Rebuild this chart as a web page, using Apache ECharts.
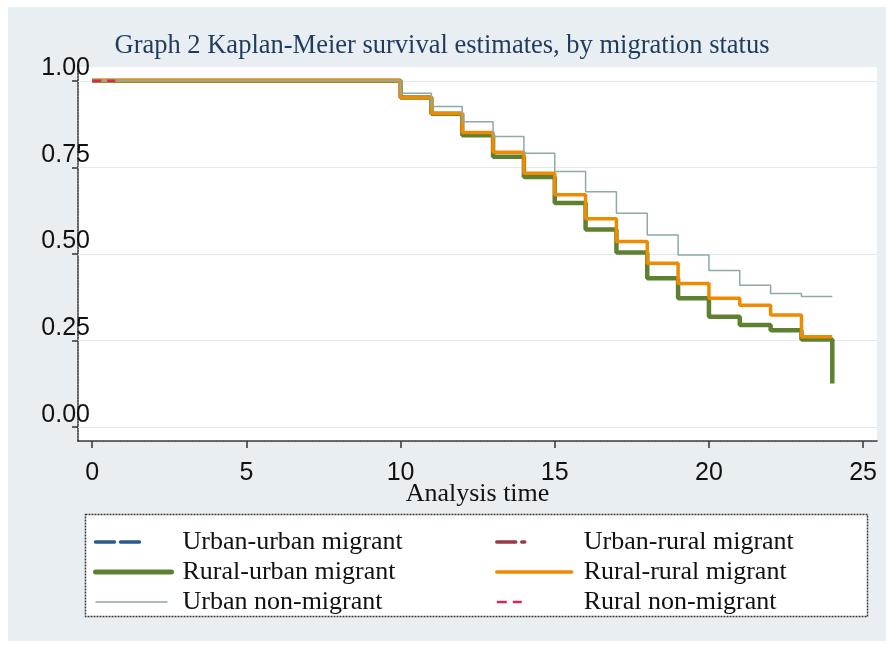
<!DOCTYPE html>
<html>
<head>
<meta charset="utf-8">
<script src="https://cdn.jsdelivr.net/npm/echarts@6/dist/echarts.min.js"></script>
<style>html,body{margin:0;padding:0;background:#fff}#c{width:886px;height:653px}</style>
</head>
<body>
<div id="c"></div>
<script>
// ---- data ----
const times = [0, 10, 11, 12, 13, 14, 15, 16, 17, 18, 19, 20, 21, 22, 23, 24];
const ruralUrban = [1, 0.952, 0.905, 0.843, 0.781, 0.722, 0.647, 0.571, 0.504, 0.430, 0.372, 0.319, 0.295, 0.280, 0.253, 0.126];
const ruralRural = [1, 0.952, 0.906, 0.851, 0.794, 0.733, 0.671, 0.602, 0.536, 0.473, 0.415, 0.372, 0.352, 0.324, 0.261, 0.261];
const urbanNon = [1, 0.964, 0.926, 0.882, 0.839, 0.791, 0.738, 0.680, 0.618, 0.555, 0.497, 0.452, 0.410, 0.386, 0.377, 0.377];
const shortTimes = [0, 0.75];
const urbanUrban = [1, 1];
const urbanRural = [1, 1];
const ruralNon = [1, 1];
const xTicks = [0, 5, 10, 15, 20, 25];
const yTicks = [0, 0.25, 0.5, 0.75, 1];
const names = ['Urban-urban migrant', 'Urban-rural migrant', 'Rural-urban migrant', 'Rural-rural migrant', 'Urban non-migrant', 'Rural non-migrant'];

const pairs = (t, v) => t.map((x, i) => [x, v[i]]);
const SERIF = '"Liberation Serif", "Times New Roman", serif';
const SANS = '"Liberation Sans", Arial, sans-serif';

const C = {
  navy: '#2b5b8c', maroon: '#9a3a44', green: '#5d8131', orange: '#f08a00', gray: '#8fa8a8', red: '#d8285a'
};

const chart = echarts.init(document.getElementById('c'), null, {renderer: 'canvas'});

const legendText = {fontFamily: SERIF, fontSize: 26, color: '#111', lineHeight: 30, padding: [0, 0, 0, 2]};
const noSym = {opacity: 0, color: 'transparent', borderWidth: 0};

chart.setOption({
  backgroundColor: '#fff',
  animation: false,
  graphic: [
    {type: 'rect', shape: {x: 8, y: 7, width: 878, height: 634}, style: {fill: '#e8eef1'}, z: -10, silent: true},
    {type: 'rect', shape: {x: 85.5, y: 514.5, width: 782, height: 102}, style: {fill: '#fff', stroke: '#3a3a3a', lineWidth: 1.5, lineDash: [2, 1]}, z: -5, silent: true}
  ],
  title: {
    text: 'Graph 2 Kaplan-Meier survival estimates, by migration status',
    left: 437, top: 28, textAlign: 'center',
    textStyle: {fontFamily: SERIF, fontSize: 26.5, fontWeight: 'normal', color: '#1f3b5e'}
  },
  grid: {left: 78, top: 67, width: 799, height: 374, show: true, backgroundColor: '#fff', borderWidth: 0},
  xAxis: {
    type: 'value', min: -0.46, max: 25.45,
    name: 'Analysis time', nameLocation: 'middle', nameGap: 40, nameMoveOverlap: false,
    nameTextStyle: {fontFamily: SERIF, fontSize: 26, color: '#111'},
    axisLine: {show: true, onZero: false, lineStyle: {color: '#333', width: 1.5, type: [2, 1]}},
    axisTick: {show: true, length: 7, customValues: xTicks, lineStyle: {color: '#333', width: 1.5}},
    axisLabel: {customValues: xTicks, fontFamily: SANS, fontSize: 25, color: '#111', margin: 20},
    splitLine: {show: false}
  },
  yAxis: {
    type: 'value', min: -0.04, max: 1.04,
    axisLine: {show: true, onZero: false, lineStyle: {color: '#333', width: 1.5, type: [2, 1]}},
    axisTick: {show: true, length: 6, customValues: yTicks, lineStyle: {color: '#333', width: 1.5}},
    axisLabel: {
      customValues: yTicks, fontFamily: SANS, fontSize: 25, color: '#111',
      margin: -12, align: 'right', verticalAlign: 'bottom', lineHeight: 25,
      formatter: v => v.toFixed(2)
    },
    splitLine: {show: false}
  },
  legend: [
    {
      left: 93, top: 527, orient: 'vertical', itemGap: 0, itemWidth: 80, itemHeight: 14, padding: 0,
      selectedMode: false, textStyle: legendText, itemStyle: noSym,
      data: [
        {name: names[0], itemStyle: noSym, lineStyle: {width: 3.5, type: [19, 6, 19, 200], cap: 'round'}},
        {name: names[2], itemStyle: noSym, lineStyle: {width: 5, type: [76, 200], cap: 'round'}},
        {name: names[4], itemStyle: noSym, lineStyle: {width: 1.5, type: [72, 200]}}
      ]
    },
    {
      left: 495, top: 527, orient: 'vertical', itemGap: 0, itemWidth: 80, itemHeight: 14, padding: 0,
      selectedMode: false, textStyle: legendText, itemStyle: noSym,
      data: [
        {name: names[1], itemStyle: noSym, lineStyle: {width: 3.5, type: [19, 6, 3, 200], cap: 'round'}},
        {name: names[3], itemStyle: noSym, lineStyle: {width: 3.5, type: [75, 200], cap: 'round'}},
        {name: names[5], itemStyle: noSym, lineStyle: {width: 2.5, type: [10, 6, 9, 200]}}
      ]
    }
  ],
  series: [
    {
      name: names[0], type: 'line', step: 'end', symbol: 'none', z: 2, silent: true,
      data: pairs(shortTimes, urbanUrban),
      lineStyle: {color: C.navy, width: 3, type: [19, 6]}, itemStyle: {color: C.navy},
      markLine: {
        silent: true, symbol: 'none', z: 1, animation: false,
        label: {show: false},
        lineStyle: {color: '#e0eaf2', width: 1.2, type: 'solid'},
        data: yTicks.map(v => ({yAxis: v}))
      }
    },
    {
      name: names[1], type: 'line', step: 'end', symbol: 'none', z: 2, silent: true,
      data: pairs(shortTimes, urbanRural),
      lineStyle: {color: C.maroon, width: 3}, itemStyle: {color: C.maroon}
    },
    {
      name: names[2], type: 'line', step: 'end', symbol: 'none', z: 3, silent: true,
      data: pairs(times, ruralUrban),
      lineStyle: {color: C.green, width: 4.5}, itemStyle: {color: C.green}
    },
    {
      name: names[3], type: 'line', step: 'end', symbol: 'none', z: 4, silent: true,
      data: pairs(times, ruralRural),
      lineStyle: {color: C.orange, width: 3.5}, itemStyle: {color: C.orange}
    },
    {
      name: names[4], type: 'line', step: 'end', symbol: 'none', z: 5, silent: true,
      data: pairs(times, urbanNon),
      lineStyle: {color: C.gray, width: 1.5}, itemStyle: {color: C.gray}
    },
    {
      name: names[5], type: 'line', step: 'end', symbol: 'none', z: 6, silent: true,
      data: pairs(shortTimes, ruralNon),
      lineStyle: {color: C.red, width: 2.5, type: [9, 6]}, itemStyle: {color: C.red}
    }
  ]
});
</script>
</body>
</html>
